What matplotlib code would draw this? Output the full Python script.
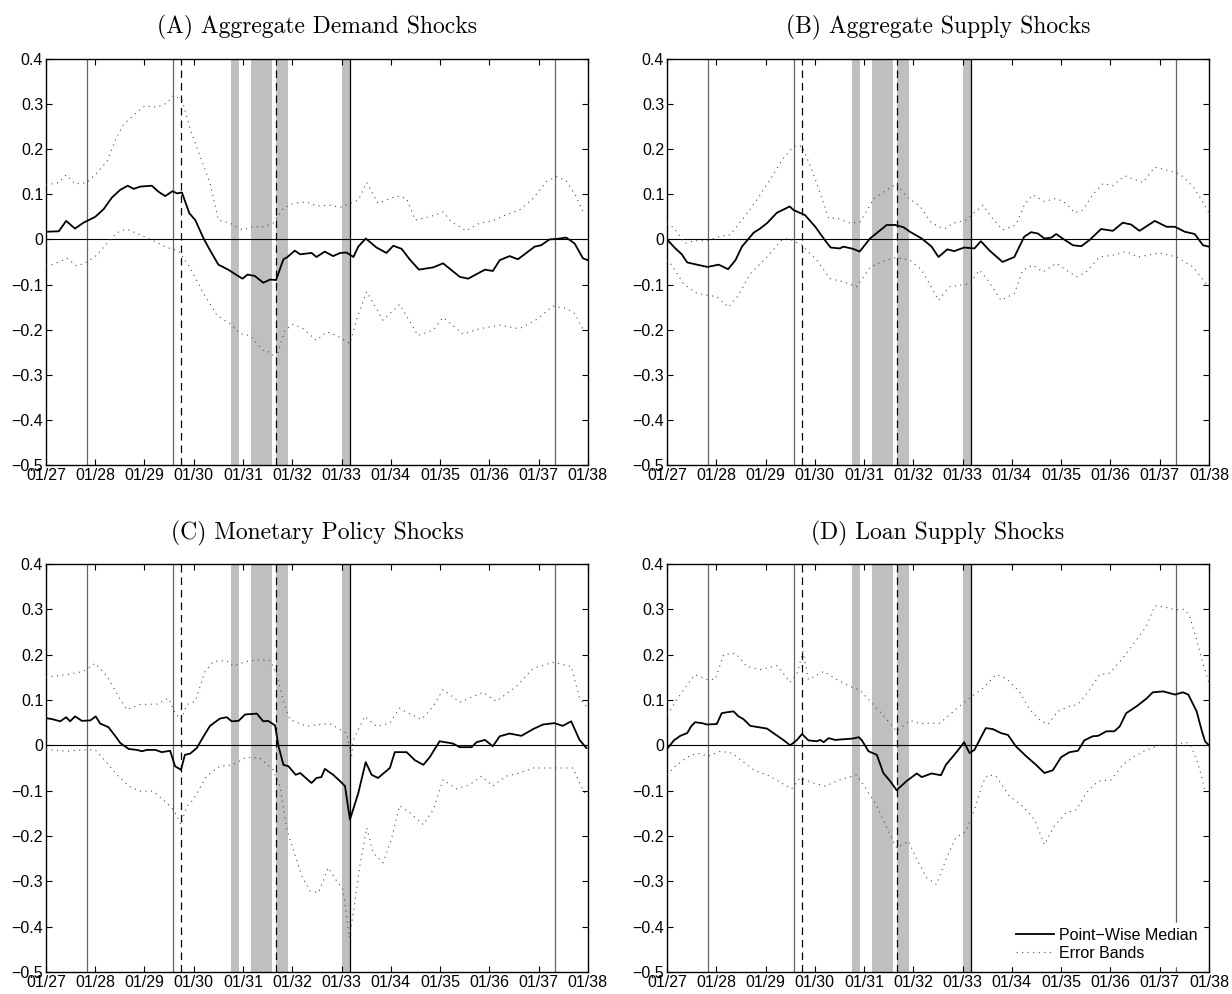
import matplotlib.pyplot as plt
import numpy as np

plt.rcParams['font.family'] = ['Liberation Sans', 'DejaVu Sans']

# tick labels
year_ticks = list(range(1927, 1939))
year_labels = ['01/27', '01/28', '01/29', '01/30', '01/31', '01/32', '01/33',
               '01/34', '01/35', '01/36', '01/37', '01/38']
y_ticks = [-0.5, -0.4, -0.3, -0.2, -0.1, 0.0, 0.1, 0.2, 0.3, 0.4]
y_labels = ['\u22120.5', '\u22120.4', '\u22120.3', '\u22120.2', '\u22120.1',
            '0', '0.1', '0.2', '0.3', '0.4']

titles = ['(A) Aggregate Demand Shocks', '(B) Aggregate Supply Shocks',
          '(C) Monetary Policy Shocks', '(D) Loan Supply Shocks']

# event dates (decimal years)
cycle_dates = [1927.833, 1929.583, 1937.333]   # gray solid lines
trough_1933 = 1933.167                         # black solid line
crisis_dates = [1929.75, 1931.667]             # dashed lines
panic_spans = [(1930.75, 1930.917), (1931.167, 1931.583),
               (1931.667, 1931.917), (1933.0, 1933.167)]

# (A) aggregate demand: (date, value)
a_median = [(1927.00, 0.017), (1927.26, 0.018), (1927.41, 0.041), (1927.59, 0.024), (1927.76, 0.037),
            (1928.00, 0.050), (1928.17, 0.067), (1928.34, 0.093), (1928.51, 0.110), (1928.66, 0.119),
            (1928.78, 0.112), (1928.91, 0.117), (1929.15, 0.119), (1929.28, 0.106), (1929.42, 0.096),
            (1929.57, 0.107), (1929.66, 0.102), (1929.76, 0.104), (1929.91, 0.058), (1930.03, 0.043),
            (1930.20, 0.002), (1930.33, -0.024), (1930.50, -0.056), (1930.70, -0.067), (1930.87, -0.079),
            (1930.99, -0.087), (1931.09, -0.078), (1931.24, -0.081), (1931.41, -0.096), (1931.55, -0.089),
            (1931.67, -0.090), (1931.82, -0.044), (1931.89, -0.040), (1932.05, -0.025), (1932.16, -0.033),
            (1932.39, -0.030), (1932.49, -0.039), (1932.66, -0.027), (1932.83, -0.037), (1932.97, -0.030),
            (1933.10, -0.029), (1933.24, -0.039), (1933.34, -0.016), (1933.49, 0.002), (1933.71, -0.018),
            (1933.91, -0.030), (1934.05, -0.014), (1934.22, -0.021), (1934.38, -0.044), (1934.57, -0.067),
            (1934.86, -0.062), (1935.06, -0.053), (1935.40, -0.083), (1935.57, -0.087), (1935.91, -0.067),
            (1936.07, -0.070), (1936.21, -0.046), (1936.41, -0.037), (1936.58, -0.044), (1936.92, -0.016),
            (1937.05, -0.013), (1937.22, 0.000), (1937.36, 0.001), (1937.56, 0.004), (1937.73, -0.009),
            (1937.90, -0.042), (1938.00, -0.046)]
a_upper = [(1927.00, 0.121), (1927.12, 0.123), (1927.26, 0.126), (1927.41, 0.143), (1927.59, 0.123),
           (1927.83, 0.126), (1928.03, 0.147), (1928.24, 0.173), (1928.41, 0.221), (1928.57, 0.254),
           (1928.78, 0.276), (1929.01, 0.296), (1929.25, 0.293), (1929.45, 0.302), (1929.59, 0.319),
           (1929.76, 0.310), (1929.93, 0.243), (1930.13, 0.184), (1930.33, 0.124), (1930.50, 0.043),
           (1930.74, 0.036), (1930.99, 0.021), (1931.21, 0.028), (1931.41, 0.028), (1931.61, 0.036),
           (1931.82, 0.069), (1932.02, 0.080), (1932.29, 0.083), (1932.49, 0.074), (1932.76, 0.076),
           (1932.97, 0.071), (1933.17, 0.080), (1933.34, 0.087), (1933.51, 0.126), (1933.74, 0.080),
           (1934.11, 0.096), (1934.32, 0.091), (1934.49, 0.043), (1934.79, 0.050), (1935.06, 0.061),
           (1935.23, 0.039), (1935.53, 0.019), (1935.80, 0.036), (1936.07, 0.041), (1936.28, 0.052),
           (1936.61, 0.065), (1936.89, 0.091), (1937.16, 0.128), (1937.36, 0.139), (1937.56, 0.130),
           (1937.76, 0.095), (1937.90, 0.061)]
a_lower = [(1927.00, -0.058), (1927.12, -0.056), (1927.43, -0.042), (1927.63, -0.059), (1927.83, -0.050),
           (1928.03, -0.035), (1928.24, -0.009), (1928.44, 0.015), (1928.64, 0.023), (1928.91, 0.010),
           (1929.18, -0.003), (1929.45, -0.018), (1929.69, -0.025), (1929.93, -0.064), (1930.20, -0.120),
           (1930.47, -0.168), (1930.74, -0.187), (1930.94, -0.209), (1931.14, -0.213), (1931.41, -0.246),
           (1931.55, -0.250), (1931.67, -0.264), (1931.85, -0.201), (1932.02, -0.188), (1932.22, -0.198),
           (1932.49, -0.224), (1932.70, -0.205), (1932.90, -0.213), (1933.17, -0.231), (1933.30, -0.179),
           (1933.51, -0.116), (1933.84, -0.179), (1934.18, -0.144), (1934.55, -0.213), (1934.86, -0.201),
           (1935.06, -0.173), (1935.47, -0.210), (1935.80, -0.198), (1936.21, -0.190), (1936.61, -0.198),
           (1936.95, -0.178), (1937.29, -0.148), (1937.56, -0.153), (1937.73, -0.164), (1937.93, -0.205)]

# (B) aggregate supply
b_median = [(1927.00, 0.000), (1927.17, -0.020), (1927.30, -0.033), (1927.41, -0.051), (1927.61, -0.056),
            (1927.82, -0.061), (1928.05, -0.056), (1928.24, -0.066), (1928.39, -0.046), (1928.52, -0.016),
            (1928.76, 0.015), (1928.89, 0.024), (1929.03, 0.036), (1929.23, 0.059), (1929.49, 0.073),
            (1929.57, 0.065), (1929.80, 0.054), (1930.01, 0.028), (1930.18, 0.002), (1930.32, -0.018),
            (1930.51, -0.020), (1930.58, -0.016), (1930.78, -0.021), (1930.91, -0.027), (1931.12, 0.002),
            (1931.29, 0.017), (1931.46, 0.032), (1931.63, 0.032), (1931.80, 0.027), (1931.93, 0.017),
            (1932.17, 0.002), (1932.37, -0.016), (1932.51, -0.039), (1932.69, -0.022), (1932.83, -0.026),
            (1933.03, -0.018), (1933.24, -0.020), (1933.37, -0.004), (1933.54, -0.024), (1933.81, -0.050),
            (1934.05, -0.039), (1934.25, 0.006), (1934.39, 0.016), (1934.53, 0.013), (1934.66, 0.002),
            (1934.80, 0.004), (1934.90, 0.012), (1935.03, 0.002), (1935.24, -0.013), (1935.41, -0.015),
            (1935.58, -0.001), (1935.81, 0.023), (1936.05, 0.019), (1936.25, 0.037), (1936.42, 0.033),
            (1936.59, 0.019), (1936.90, 0.041), (1937.14, 0.028), (1937.31, 0.028), (1937.51, 0.017),
            (1937.71, 0.012), (1937.88, -0.013), (1938.00, -0.016)]
b_upper = [(1927.00, 0.035), (1927.07, 0.032), (1927.20, 0.017), (1927.37, -0.009), (1927.54, -0.003),
           (1927.81, -0.003), (1928.08, 0.007), (1928.28, 0.010), (1928.55, 0.047), (1928.82, 0.087),
           (1929.09, 0.132), (1929.36, 0.180), (1929.57, 0.206), (1929.74, 0.207), (1929.94, 0.154),
           (1930.11, 0.102), (1930.28, 0.047), (1930.45, 0.047), (1930.72, 0.036), (1930.92, 0.039),
           (1931.19, 0.089), (1931.46, 0.110), (1931.66, 0.123), (1931.86, 0.095), (1932.14, 0.073),
           (1932.34, 0.040), (1932.51, 0.028), (1932.65, 0.024), (1932.80, 0.036), (1933.07, 0.043),
           (1933.41, 0.076), (1933.58, 0.050), (1933.81, 0.021), (1934.08, 0.032), (1934.25, 0.076),
           (1934.42, 0.099), (1934.66, 0.084), (1934.90, 0.091), (1935.10, 0.080), (1935.27, 0.059),
           (1935.44, 0.065), (1935.64, 0.099), (1935.85, 0.124), (1936.05, 0.119), (1936.29, 0.141),
           (1936.66, 0.126), (1936.90, 0.160), (1937.17, 0.153), (1937.41, 0.145), (1937.68, 0.117),
           (1937.85, 0.087), (1938.00, 0.059)]
b_lower = [(1927.00, -0.045), (1927.07, -0.053), (1927.34, -0.099), (1927.61, -0.120), (1928.01, -0.127),
           (1928.25, -0.150), (1928.45, -0.124), (1928.69, -0.076), (1929.03, -0.039), (1929.33, -0.001),
           (1929.47, 0.002), (1929.74, -0.013), (1930.04, -0.046), (1930.31, -0.087), (1930.58, -0.094),
           (1930.85, -0.105), (1931.12, -0.062), (1931.39, -0.048), (1931.66, -0.040), (1931.93, -0.046),
           (1932.17, -0.068), (1932.34, -0.101), (1932.51, -0.135), (1932.73, -0.105), (1932.97, -0.101),
           (1933.14, -0.098), (1933.34, -0.068), (1933.51, -0.090), (1933.78, -0.135), (1934.05, -0.120),
           (1934.22, -0.068), (1934.42, -0.057), (1934.63, -0.072), (1934.90, -0.053), (1935.31, -0.083),
           (1935.51, -0.072), (1935.78, -0.039), (1936.05, -0.035), (1936.32, -0.027), (1936.56, -0.039),
           (1937.00, -0.030), (1937.34, -0.039), (1937.68, -0.061), (1937.88, -0.090), (1938.00, -0.105)]

# (C) monetary policy
c_median = [(1927.00, 0.060), (1927.12, 0.058), (1927.29, 0.053), (1927.41, 0.062), (1927.49, 0.053),
            (1927.59, 0.064), (1927.73, 0.054), (1927.90, 0.055), (1928.01, 0.064), (1928.10, 0.048),
            (1928.27, 0.040), (1928.41, 0.020), (1928.51, 0.005), (1928.68, -0.008), (1928.84, -0.010),
            (1928.95, -0.013), (1929.05, -0.010), (1929.22, -0.010), (1929.35, -0.015), (1929.52, -0.012),
            (1929.62, -0.046), (1929.74, -0.054), (1929.82, -0.021), (1929.93, -0.018), (1930.06, -0.006),
            (1930.20, 0.020), (1930.33, 0.043), (1930.53, 0.059), (1930.67, 0.062), (1930.77, 0.053),
            (1930.91, 0.054), (1931.04, 0.068), (1931.28, 0.070), (1931.41, 0.053), (1931.51, 0.054),
            (1931.65, 0.044), (1931.72, -0.002), (1931.82, -0.043), (1931.92, -0.046), (1932.07, -0.065),
            (1932.16, -0.061), (1932.39, -0.083), (1932.49, -0.072), (1932.59, -0.070), (1932.66, -0.052),
            (1932.83, -0.065), (1932.97, -0.079), (1933.07, -0.090), (1933.17, -0.164), (1933.34, -0.105),
            (1933.49, -0.037), (1933.61, -0.065), (1933.74, -0.072), (1933.98, -0.050), (1934.08, -0.015),
            (1934.32, -0.015), (1934.49, -0.033), (1934.66, -0.043), (1934.79, -0.026), (1934.99, 0.009),
            (1935.26, 0.004), (1935.40, -0.004), (1935.64, -0.004), (1935.74, 0.007), (1935.91, 0.012),
            (1936.07, -0.002), (1936.21, 0.020), (1936.41, 0.026), (1936.65, 0.021), (1936.89, 0.036),
            (1937.09, 0.046), (1937.32, 0.049), (1937.49, 0.043), (1937.66, 0.053), (1937.83, 0.012),
            (1937.97, -0.006)]
c_upper = [(1927.00, 0.150), (1927.12, 0.152), (1927.43, 0.156), (1927.76, 0.163), (1928.00, 0.181),
           (1928.24, 0.152), (1928.51, 0.101), (1928.64, 0.079), (1928.91, 0.090), (1929.25, 0.091),
           (1929.49, 0.104), (1929.62, 0.071), (1929.74, 0.057), (1929.86, 0.090), (1930.03, 0.097),
           (1930.23, 0.163), (1930.40, 0.185), (1930.67, 0.187), (1930.80, 0.175), (1931.07, 0.185),
           (1931.34, 0.189), (1931.55, 0.187), (1931.68, 0.159), (1931.82, 0.097), (1931.95, 0.057),
           (1932.29, 0.042), (1932.56, 0.046), (1932.76, 0.048), (1933.10, 0.027), (1933.20, -0.026),
           (1933.24, 0.012), (1933.47, 0.064), (1933.71, 0.042), (1933.98, 0.049), (1934.18, 0.082),
           (1934.35, 0.071), (1934.62, 0.057), (1934.86, 0.086), (1935.06, 0.123), (1935.40, 0.095),
           (1935.87, 0.117), (1936.14, 0.097), (1936.55, 0.130), (1936.89, 0.170), (1937.29, 0.183),
           (1937.66, 0.174), (1937.83, 0.104), (1937.97, 0.086)]
c_lower = [(1927.00, -0.008), (1927.12, -0.010), (1927.43, -0.013), (1927.73, -0.010), (1928.00, -0.010),
           (1928.24, -0.039), (1928.44, -0.065), (1928.68, -0.090), (1928.91, -0.101), (1929.18, -0.101),
           (1929.45, -0.127), (1929.59, -0.142), (1929.74, -0.175), (1929.86, -0.134), (1929.99, -0.120),
           (1930.26, -0.068), (1930.53, -0.046), (1930.80, -0.043), (1931.07, -0.026), (1931.34, -0.028),
           (1931.61, -0.054), (1931.75, -0.090), (1931.89, -0.186), (1932.02, -0.230), (1932.19, -0.288),
           (1932.36, -0.321), (1932.53, -0.325), (1932.73, -0.270), (1932.90, -0.299), (1933.03, -0.318),
           (1933.16, -0.424), (1933.27, -0.347), (1933.37, -0.266), (1933.51, -0.182), (1933.64, -0.237),
           (1933.84, -0.259), (1934.01, -0.208), (1934.18, -0.133), (1934.39, -0.149), (1934.66, -0.175),
           (1934.86, -0.142), (1935.06, -0.076), (1935.33, -0.096), (1935.60, -0.087), (1935.84, -0.068),
           (1936.07, -0.090), (1936.34, -0.068), (1936.61, -0.061), (1936.89, -0.050), (1937.29, -0.050),
           (1937.70, -0.050), (1937.83, -0.083), (1937.97, -0.112)]

# (D) loan supply
d_median = [(1927.00, -0.008), (1927.14, 0.011), (1927.27, 0.021), (1927.41, 0.027), (1927.49, 0.042),
            (1927.57, 0.051), (1927.71, 0.049), (1927.81, 0.046), (1928.01, 0.047), (1928.11, 0.071),
            (1928.22, 0.073), (1928.35, 0.075), (1928.45, 0.064), (1928.55, 0.058), (1928.69, 0.043),
            (1929.03, 0.037), (1929.16, 0.027), (1929.36, 0.012), (1929.50, 0.000), (1929.64, 0.012),
            (1929.74, 0.025), (1929.87, 0.011), (1930.04, 0.009), (1930.11, 0.012), (1930.18, 0.007),
            (1930.28, 0.016), (1930.41, 0.012), (1930.78, 0.015), (1930.89, 0.018), (1930.95, 0.012),
            (1931.09, -0.013), (1931.26, -0.021), (1931.39, -0.061), (1931.53, -0.079), (1931.66, -0.099),
            (1931.86, -0.079), (1932.07, -0.062), (1932.17, -0.070), (1932.37, -0.062), (1932.56, -0.066),
            (1932.66, -0.043), (1932.83, -0.021), (1932.97, -0.002), (1933.03, 0.007), (1933.14, -0.017),
            (1933.24, -0.010), (1933.47, 0.038), (1933.61, 0.036), (1933.78, 0.027), (1933.92, 0.023),
            (1934.08, -0.002), (1934.29, -0.024), (1934.49, -0.043), (1934.66, -0.061), (1934.83, -0.055),
            (1935.00, -0.026), (1935.17, -0.015), (1935.34, -0.012), (1935.47, 0.011), (1935.64, 0.020),
            (1935.75, 0.021), (1935.92, 0.031), (1936.08, 0.031), (1936.19, 0.042), (1936.32, 0.071),
            (1936.53, 0.086), (1936.73, 0.103), (1936.86, 0.117), (1937.07, 0.119), (1937.31, 0.112),
            (1937.47, 0.117), (1937.58, 0.112), (1937.75, 0.075), (1937.85, 0.034), (1937.92, 0.009),
            (1938.00, 0.000)]
d_upper = [(1927.00, 0.068), (1927.03, 0.071), (1927.20, 0.101), (1927.41, 0.134), (1927.57, 0.156),
           (1927.81, 0.145), (1927.98, 0.146), (1928.15, 0.200), (1928.39, 0.203), (1928.62, 0.174),
           (1928.89, 0.167), (1929.23, 0.176), (1929.50, 0.139), (1929.64, 0.159), (1929.76, 0.207),
           (1929.87, 0.145), (1930.18, 0.163), (1930.45, 0.145), (1930.72, 0.130), (1930.92, 0.121),
           (1931.19, 0.090), (1931.46, 0.057), (1931.66, 0.031), (1931.93, 0.055), (1932.14, 0.048),
           (1932.54, 0.049), (1932.86, 0.079), (1933.14, 0.104), (1933.41, 0.126), (1933.68, 0.156),
           (1933.88, 0.148), (1934.15, 0.119), (1934.36, 0.079), (1934.56, 0.057), (1934.73, 0.046),
           (1934.93, 0.075), (1935.17, 0.086), (1935.34, 0.090), (1935.58, 0.123), (1935.78, 0.156),
           (1935.98, 0.159), (1936.25, 0.192), (1936.53, 0.233), (1936.73, 0.262), (1936.90, 0.308),
           (1937.10, 0.305), (1937.31, 0.299), (1937.51, 0.300), (1937.61, 0.284), (1937.75, 0.233),
           (1937.88, 0.181), (1938.00, 0.137)]
d_lower = [(1927.00, -0.065), (1927.03, -0.061), (1927.17, -0.046), (1927.41, -0.026), (1927.61, -0.017),
           (1927.84, -0.024), (1928.08, -0.013), (1928.32, -0.017), (1928.49, -0.032), (1928.76, -0.054),
           (1929.09, -0.068), (1929.53, -0.096), (1929.70, -0.072), (1929.97, -0.083), (1930.21, -0.090),
           (1930.51, -0.076), (1930.85, -0.065), (1931.05, -0.098), (1931.26, -0.134), (1931.46, -0.182),
           (1931.66, -0.226), (1931.90, -0.211), (1932.07, -0.252), (1932.27, -0.292), (1932.47, -0.307),
           (1932.66, -0.252), (1932.86, -0.204), (1933.07, -0.189), (1933.24, -0.142), (1933.41, -0.083),
           (1933.51, -0.065), (1933.68, -0.068), (1933.95, -0.112), (1934.22, -0.134), (1934.46, -0.164),
           (1934.66, -0.219), (1934.86, -0.178), (1935.10, -0.149), (1935.31, -0.142), (1935.51, -0.105),
           (1935.75, -0.079), (1936.02, -0.076), (1936.25, -0.043), (1936.49, -0.024), (1936.73, -0.010),
           (1937.00, 0.000), (1937.27, 0.000), (1937.54, 0.007), (1937.64, -0.002), (1937.75, -0.032),
           (1937.85, -0.068), (1937.92, -0.101)]

panels = [(a_median, a_upper, a_lower), (b_median, b_upper, b_lower),
          (c_median, c_upper, c_lower), (d_median, d_upper, d_lower)]

fig = plt.figure(figsize=(12.32, 9.94), dpi=100)
rects = [[0.0373, 0.5322, 0.4399, 0.4085], [0.5414, 0.5322, 0.4399, 0.4085],
         [0.0373, 0.0221, 0.4399, 0.4105], [0.5414, 0.0221, 0.4399, 0.4105]]

for i, (med, up, lo) in enumerate(panels):
    ax = fig.add_axes(rects[i])
    for s, e in panic_spans:
        ax.axvspan(s, e, color='0.75', lw=0, zorder=0)
    for d in cycle_dates:
        ax.axvline(d, color='0.4', lw=0.9, zorder=1)
    ax.axvline(trough_1933, color='k', lw=0.9, zorder=1)
    for d in crisis_dates:
        ax.axvline(d, color='k', lw=0.9, ls=(0, (6, 4)), zorder=1)
    ax.axhline(0, color='k', lw=0.8, zorder=2)

    t, v = np.array(med).T
    ax.plot(t, v, color='k', lw=1.3, zorder=4, label='Point\u2212Wise Median')
    t, v = np.array(up).T
    ax.plot(t, v, color='0.3', lw=0.8, ls=(0, (1, 4)), zorder=3, label='Error Bands')
    t, v = np.array(lo).T
    ax.plot(t, v, color='0.3', lw=0.8, ls=(0, (1, 4)), zorder=3)

    ax.set_xlim(1927, 1938)
    ax.set_ylim(-0.5, 0.4)
    ax.set_xticks(year_ticks)
    ax.set_xticklabels(year_labels)
    ax.set_yticks(y_ticks)
    ax.set_yticklabels(y_labels)
    ax.tick_params(direction='in', top=True, right=True, length=4, width=0.8,
                   labelsize=11.5, pad=2)
    for sp in ax.spines.values():
        sp.set_linewidth(1.0)
    ax.set_title(titles[i], fontsize=17, family='cmr10', pad=18)

    if i == 3:
        leg = ax.legend(loc='lower right', fontsize=11.5, frameon=True, fancybox=False,
                        edgecolor='white', facecolor='white', framealpha=1,
                        handlelength=2.4, handletextpad=0.3, labelspacing=0.2,
                        borderpad=0.3, borderaxespad=0.4)
        leg.set_zorder(10)

fig.savefig('out.png', dpi=100)
